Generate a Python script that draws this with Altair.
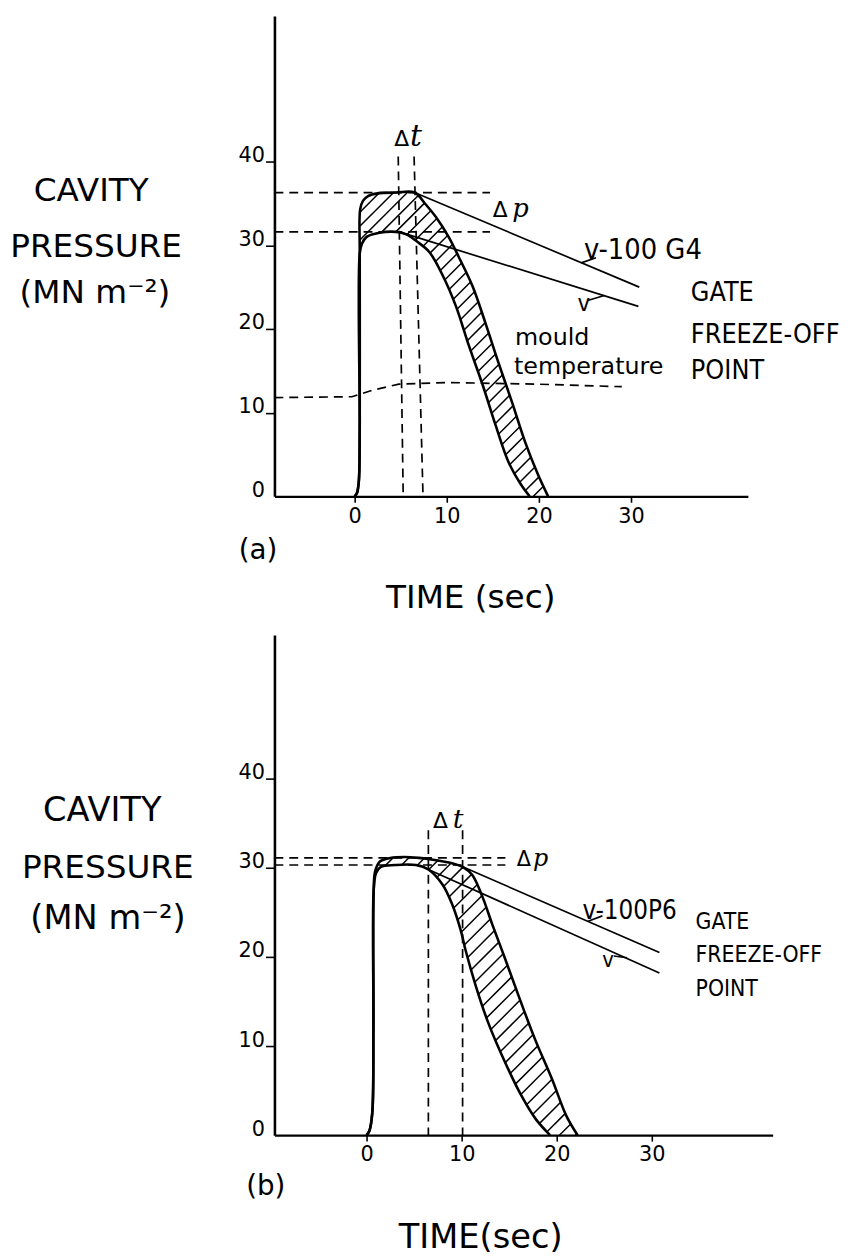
import altair as alt
import pandas as pd

# ---------------- values ----------------
# time in s, cavity pressure in MN m^-2

# panel (a)  v-100 G4
A_RISE_T = [0.0, 0.25, 0.45, 0.55, 0.55]
A_RISE_V = [0.0, 0.4, 1.8, 8.0, 29.0]
A_UP_T = [0.55, 0.6, 0.9, 1.5, 2.5, 4.5, 6.5, 7.7, 8.8, 10.2, 11.3, 12.8, 14.2, 15.6, 17.1, 18.5, 19.9, 21.0]
A_UP_V = [29.0, 34.3, 35.3, 35.9, 36.2, 36.3, 36.3, 34.9, 33.4, 31.0, 28.6, 25.1, 20.7, 16.0, 11.2, 6.5, 2.6, 0.0]
A_LO_T = [0.55, 0.8, 1.3, 2.7, 4.5, 5.6, 6.7, 8.1, 9.6, 11.0, 12.4, 13.9, 15.3, 16.7, 18.0, 19.0]
A_LO_V = [29.0, 30.2, 31.0, 31.5, 31.6, 31.3, 30.5, 29.2, 26.3, 22.7, 18.0, 13.3, 8.5, 4.1, 1.5, 0.0]
A_MOULD_T = [-8.71, -0.3, 2.0, 4.8, 10.0, 20.0, 29.0]
A_MOULD_V = [11.8, 11.9, 12.7, 13.4, 13.6, 13.4, 13.1]
A_LINES = [(6.5, 36.3, 30.9, 25.0), (4.85, 31.6, 30.8, 22.7)]          # v-100 G4 and v decay lines
A_LEADERS = [(26.2, 28.5, 24.6, 27.9), (25.3, 23.4, 27.1, 24.0)]
A_DASH = [(-8.71, 36.3, 14.7, 36.3), (-8.71, 31.6, 14.7, 31.6),
          (4.73, 40.6, 5.27, 0.0), (6.45, 40.6, 7.42, 0.0)]

# panel (b)  v-100 P6
B_RISE_T = [0.0, 0.3, 0.6, 0.72, 0.75]
B_RISE_V = [0.0, 0.5, 2.5, 12.0, 27.5]
B_UP_T = [0.75, 0.9, 1.4, 2.5, 4.0, 5.5, 7.0, 9.0, 10.1, 11.1, 12.2, 13.2, 14.6, 16.0, 17.7, 19.5, 21.0, 22.2]
B_UP_V = [27.5, 29.6, 30.7, 31.1, 31.2, 31.1, 30.9, 30.5, 30.1, 29.2, 26.7, 23.7, 19.7, 15.6, 10.8, 6.3, 2.2, 0.0]
B_LO_T = [0.75, 1.0, 1.5, 3.0, 5.2, 6.5, 8.0, 9.0, 9.9, 10.4, 11.5, 12.8, 14.6, 16.3, 17.8, 19.3]
B_LO_V = [27.5, 29.4, 30.1, 30.3, 30.3, 29.8, 28.1, 25.9, 23.0, 20.8, 16.7, 12.6, 8.1, 4.4, 1.8, 0.0]
B_LINES = [(10.1, 30.1, 30.8, 20.5), (6.5, 29.8, 30.8, 18.2)]
B_LEADERS = [(24.8, 24.6, 23.3, 24.0), (26.0, 20.1, 27.4, 19.9)]
B_DASH = [(-9.69, 31.1, 14.6, 31.1), (-9.69, 30.3, 14.6, 30.3),
          (6.5, 34.2, 6.5, 0.0), (10.1, 34.2, 10.1, 0.0)]

X_TICKS = [0, 10, 20, 30]
Y_TICKS = [0, 10, 20, 30, 40]

# ---------------- annotation texts (label, t, v, style) ----------------
A_TEXTS = [("CAVITY", -28.6, 35.3, "big_c"), ("PRESSURE", -37.4, 28.6, "big_l"),
           ("(MN m\u207b\u00b2)", -28.2, 23.1, "big_c"), ("TIME (sec)", 12.6, -13.4, "big_c"),
           ("(a)", -10.5, -7.5, "tag"),
           ("\u0394", 4.3, 41.9, "dt"), ("t", 6.0, 41.9, "it_t"),
           ("\u0394", 15.0, 33.4, "dp"), ("p", 17.1, 33.4, "it_p"),
           ("v-100 G4", 24.9, 28.4, "code"), ("v", 24.2, 22.2, "v"),
           ("GATE", 36.5, 23.3, "gate"), ("FREEZE-OFF", 36.5, 18.3, "gate"), ("POINT", 36.5, 14.0, "gate"),
           ("mould", 17.4, 18.1, "mould"), ("temperature", 17.3, 14.6, "mould")]
B_TEXTS = [("CAVITY", -27.8, 35.2, "big_c"), ("PRESSURE", -36.25, 28.9, "big_l"),
           ("(MN m\u207b\u00b2)", -27.2, 23.1, "big_c"), ("TIME(sec)", 12.0, -12.6, "big_c"),
           ("(b)", -10.6, -6.7, "tag"),
           ("\u0394", 7.0, 34.4, "dt"), ("t", 9.06, 34.4, "it_t"),
           ("\u0394", 15.8, 30.2, "dp"), ("p", 17.5, 30.2, "it_p"),
           ("v-100P6", 22.7, 24.2, "code"), ("v", 24.8, 18.9, "v"),
           ("GATE", 34.6, 23.1, "gate"), ("FREEZE-OFF", 34.6, 19.4, "gate"), ("POINT", 34.6, 15.6, "gate")]

SANS = "DejaVu Sans"
NARROW = "DejaVu Sans Condensed, Liberation Sans Narrow, sans-serif"
SERIF = "DejaVu Serif"


def styles(sizes):
    return {
        "big_c": (SANS, sizes["big"], "center", "normal"),
        "big_l": (SANS, 33, "left", "normal"),
        "tag": (SANS, 28, "center", "normal"),
        "dt": (SANS, sizes["dt"], "left", "normal"),
        "it_t": (SERIF, sizes["it_t"], "left", "italic"),
        "dp": (SANS, sizes["dp"], "left", "normal"),
        "it_p": (SERIF, sizes["it_p"], "left", "italic"),
        "code": (NARROW, sizes["code"], "left", "normal"),
        "v": (NARROW, sizes["v"], "left", "normal"),
        "gate": (NARROW, sizes["gate"], "left", "normal"),
        "mould": (SANS, 24, "left", "normal"),
    }


def hatch_segments(up_t, up_v, lo_t, lo_v, sx, sy, step):
    poly = [(t * sx, v * sy) for t, v in zip(up_t, up_v)]
    poly += [(t * sx, v * sy) for t, v in zip(lo_t[::-1], lo_v[::-1])]
    vals = [x - y for x, y in poly]
    n = len(poly)
    rows = []
    c = min(vals) + step * 0.6
    while c < max(vals):
        pts = []
        for k in range(n):
            x1, y1 = poly[k]
            x2, y2 = poly[(k + 1) % n]
            d1 = x1 - y1 - c
            d2 = x2 - y2 - c
            if (d1 < 0) != (d2 < 0):
                s = d1 / (d1 - d2)
                pts.append((x1 + s * (x2 - x1), y1 + s * (y2 - y1)))
        pts.sort()
        for j in range(0, len(pts) - 1, 2):
            (xa, ya), (xb, yb) = pts[j], pts[j + 1]
            if abs(xb - xa) > 0.8:
                rows.append({"t": xa / sx, "v": ya / sy, "t2": xb / sx, "v2": yb / sy})
        c += step
    return pd.DataFrame(rows)


def seg_df(segs):
    return pd.DataFrame([{"t": a, "v": b, "t2": c, "v2": d} for a, b, c, d in segs])


def panel(xdom, ydom, w, h, rise_t, rise_v, up_t, up_v, lo_t, lo_v, lines, leaders, dashes,
          texts, sizes, sx, sy, step, mould=None):
    xaxis = alt.Axis(values=X_TICKS, title=None, grid=False, domainColor="black", domainWidth=2.4,
                     tickColor="black", tickWidth=1.6, tickSize=6, labelColor="black", labelFont=SANS,
                     labelFontSize=21, labelPadding=3, labelFlush=False, labelOverlap=False, format="d")
    yaxis = alt.Axis(values=Y_TICKS, title=None, grid=False, domainColor="black", domainWidth=2.6,
                     tickColor=alt.condition("datum.value == 0", alt.value("transparent"), alt.value("black")),
                     tickWidth=1.6, tickSize=9, labelColor="black", labelFont=SANS,
                     labelFontSize=21, labelPadding=1, labelBaseline="alphabetic", labelFlush=False,
                     labelOverlap=False, format="d")
    X = alt.X("t:Q", scale=alt.Scale(domain=xdom, nice=False, zero=False), axis=xaxis)
    Y = alt.Y("v:Q", scale=alt.Scale(domain=ydom, nice=False, zero=False), axis=yaxis)

    rows = []
    for name, tt, vv in (("upper", rise_t + up_t[1:], rise_v + up_v[1:]),
                         ("lower", rise_t + lo_t[1:], rise_v + lo_v[1:])):
        for i, (t, v) in enumerate(zip(tt, vv)):
            rows.append({"curve": name, "i": i, "t": t, "v": v})
    curves = alt.Chart(pd.DataFrame(rows)).mark_line(
        color="black", strokeWidth=2.6, interpolate="catmull-rom").encode(
        x=X, y=Y, order="i:Q", detail="curve:N")

    hatch = alt.Chart(hatch_segments(up_t, up_v, lo_t, lo_v, sx, sy, step)).mark_rule(
        color="black", strokeWidth=1.5).encode(x=X, y=Y, x2="t2:Q", y2="v2:Q")

    straight = alt.Chart(seg_df(lines + leaders)).mark_rule(
        color="black", strokeWidth=1.7).encode(x=X, y=Y, x2="t2:Q", y2="v2:Q")

    dashed = alt.Chart(seg_df(dashes)).mark_rule(
        color="black", strokeWidth=1.7, strokeDash=[9, 6]).encode(x=X, y=Y, x2="t2:Q", y2="v2:Q")

    layers = [dashed, hatch, curves, straight]
    if mould is not None:
        mdf = pd.DataFrame({"t": mould[0], "v": mould[1], "i": list(range(len(mould[0])))})
        layers.append(alt.Chart(mdf).mark_line(color="black", strokeWidth=1.7, strokeDash=[9, 6]).encode(
            x=X, y=Y, order="i:Q"))

    st = styles(sizes)
    groups = {}
    for label, t, v, s in texts:
        groups.setdefault(s, []).append({"label": label, "t": t, "v": v})
    for s, recs in groups.items():
        font, size, align, fstyle = st[s]
        layers.append(alt.Chart(pd.DataFrame(recs)).mark_text(
            font=font, fontSize=size, align=align, baseline="alphabetic", fontStyle=fstyle,
            color="black").encode(x=X, y=Y, text="label:N"))

    return alt.layer(*layers).properties(width=w, height=h)


pa = panel([-8.71, 42.69], [0, 57.4], 478, 485, A_RISE_T, A_RISE_V, A_UP_T, A_UP_V, A_LO_T, A_LO_V,
           A_LINES, A_LEADERS, A_DASH, A_TEXTS,
           {"big": 33, "dt": 22, "it_t": 30, "dp": 22, "it_p": 26, "code": 29, "v": 24, "gate": 27},
           9.3, 8.45, 14, mould=(A_MOULD_T, A_MOULD_V))
pb = panel([-9.69, 42.71], [0, 56.1], 503, 505, B_RISE_T, B_RISE_V, B_UP_T, B_UP_V, B_LO_T, B_LO_V,
           B_LINES, B_LEADERS, B_DASH, B_TEXTS,
           {"big": 34, "dt": 22, "it_t": 27, "dp": 21, "it_p": 24, "code": 26, "v": 22, "gate": 23},
           9.6, 9.0, 16)

chart = alt.vconcat(pa, pb, spacing=140, bounds="flush").properties(
    padding={"left": 2, "top": 2, "right": 0, "bottom": 0}
).configure_view(stroke=None)

chart.save("out.html", embed_options={"renderer": "svg", "actions": False})
